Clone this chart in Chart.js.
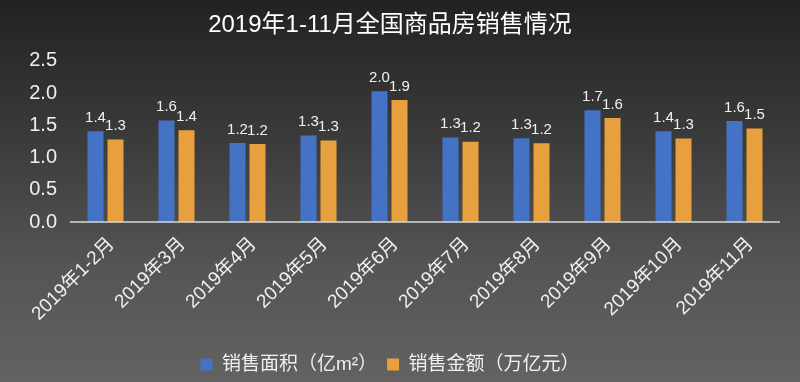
<!DOCTYPE html>
<html>
<head>
<meta charset="utf-8">
<script src="https://cdn.jsdelivr.net/npm/chart.js@4/dist/chart.umd.min.js"></script>
<style>
html,body{margin:0;padding:0;}
body{width:800px;height:382px;background:linear-gradient(to bottom,#222222 0%,#3a3a3a 35%,#555555 70%,#626262 100%);overflow:hidden;}
#wrap{position:relative;width:800px;height:382px;}
</style>
</head>
<body>
<div id="wrap"><canvas id="c" width="800" height="382"></canvas></div>
<script>
const categories = ['2019年1-2月','2019年3月','2019年4月','2019年5月','2019年6月','2019年7月','2019年8月','2019年9月','2019年10月','2019年11月'];
const areaValues = [1.407, 1.576, 1.227, 1.342, 2.027, 1.309, 1.297, 1.733, 1.407, 1.565];
const amountValues = [1.280, 1.424, 1.211, 1.263, 1.893, 1.243, 1.223, 1.614, 1.295, 1.451];
const seriesNames = ['销售面积（亿m²）','销售金额（万亿元）'];
const yTicks = [0, 0.5, 1.0, 1.5, 2.0, 2.5];
const titleText = '2019年1-11月全国商品房销售情况';

const FONT = "'Liberation Sans', Arial, 'Noto Sans CJK SC', sans-serif";

const valueLabels = {
  id: 'valueLabels',
  afterDatasetsDraw(chart) {
    const ctx = chart.ctx;
    ctx.save();
    ctx.font = '15px ' + FONT;
    ctx.fillStyle = '#f0f0f0';
    ctx.textAlign = 'center';
    ctx.textBaseline = 'bottom';
    chart.data.datasets.forEach((ds, i) => {
      const meta = chart.getDatasetMeta(i);
      meta.data.forEach((bar, j) => {
        ctx.fillText(ds.data[j].toFixed(1), bar.x, bar.y - 6);
      });
    });
    ctx.restore();
  }
};

const baseLine = {
  id: 'baseLine',
  afterDatasetsDraw(chart) {
    const ctx = chart.ctx;
    const y = chart.scales.y.getPixelForValue(0);
    const a = chart.chartArea;
    ctx.save();
    ctx.strokeStyle = '#d9d9d9';
    ctx.lineWidth = 1.5;
    ctx.beginPath();
    ctx.moveTo(a.left, y);
    ctx.lineTo(a.right, y);
    ctx.stroke();
    ctx.restore();
  }
};

new Chart(document.getElementById('c'), {
  type: 'bar',
  data: {
    labels: categories,
    datasets: [
      { label: seriesNames[0], data: areaValues, backgroundColor: '#4472C4', borderWidth: 0 },
      { label: seriesNames[1], data: amountValues, backgroundColor: '#E8A03E', borderWidth: 0 }
    ]
  },
  options: {
    responsive: false,
    animation: false,
    devicePixelRatio: 1,
    layout: { padding: { left: 0, right: 20, top: 0, bottom: -2 } },
    datasets: { bar: { categoryPercentage: 0.564, barPercentage: 0.8 } },
    plugins: {
      title: {
        display: true,
        text: titleText,
        color: '#ffffff',
        font: { family: FONT, size: 24, weight: 'normal' },
        padding: { top: 11, bottom: 21 }
      },
      legend: {
        position: 'bottom',
        labels: {
          color: '#f0f0f0',
          font: { family: FONT, size: 19 },
          boxWidth: 12, boxHeight: 12,
          padding: 10
        }
      },
      tooltip: { enabled: false }
    },
    scales: {
      x: {
        afterFit(scale) { scale.height = 123; },
        grid: { display: false, drawTicks: false },
        border: { display: false },
        ticks: {
          color: '#f0f0f0',
          font: { family: FONT, size: 19 },
          maxRotation: 45, minRotation: 45,
          padding: 11,
          labelOffset: 6
        }
      },
      y: {
        min: 0, max: 2.5,
        afterBuildTicks(scale) { scale.ticks = yTicks.map(v => ({ value: v })); },
        afterFit(scale) { scale.width = 70; },
        grid: { display: false, drawTicks: false },
        border: { display: false },
        ticks: {
          color: '#f0f0f0',
          font: { family: FONT, size: 20 },
          padding: 13,
          callback: v => Number(v).toFixed(1)
        }
      }
    }
  },
  plugins: [valueLabels, baseLine]
});
</script>
</body>
</html>
